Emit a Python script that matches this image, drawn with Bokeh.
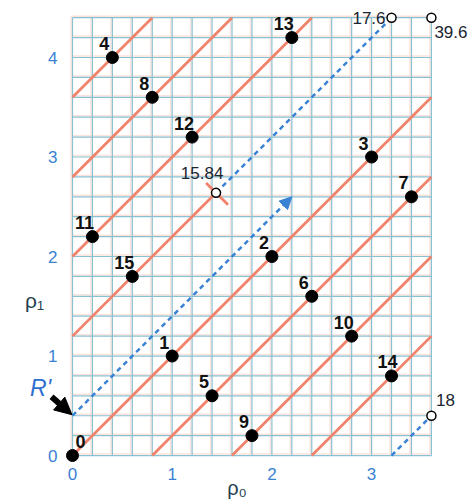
import numpy as np
from bokeh.plotting import figure
from bokeh.models import (ColumnDataSource, LabelSet, Label, Arrow, NormalHead,
                          FixedTicker, Range1d)
from bokeh.core.properties import value
from bokeh.embed import file_html
from bokeh.resources import INLINE

# lattice points (rho0, rho1) with their indices
point_ids = [str(i) for i in range(16)]
rho0 = [0.0, 1.0, 2.0, 3.0, 0.4, 1.4, 2.4, 3.4, 0.8, 1.8, 2.8, 0.2, 1.2, 2.2, 3.2, 0.6]
rho1 = [0.0, 1.0, 2.0, 3.0, 4.0, 0.6, 1.6, 2.6, 3.6, 0.2, 1.2, 2.2, 3.2, 4.2, 0.8, 1.8]

# intercepts c of the full diagonals rho1 = rho0 + c
diag_offsets = [3.6, 2.8, 2.0, 0.0, -0.8, -1.6, -2.4]

# marked parameter values along the search line
open_values = ["15.84", "17.6", "39.6", "18"]
open_rho0 = [1.44, 3.2, 3.6, 3.6]
open_rho1 = [2.64, 4.4, 4.4, 0.4]

# search line pieces (dashed)
search_start = (0.0, 0.4)
search_arrow_end = (2.2, 2.6)
dash_x0 = [1.44, 3.2]
dash_y0 = [2.64, 0.0]
dash_x1 = [3.2, 3.6]
dash_y1 = [4.4, 0.4]

# diagonal through 15 that stops at the 15.84 marker, and its cross stroke
partial_diag = ([0.0, 1.44], [1.2, 2.64])
cross_stroke = ([1.34, 1.56], [2.74, 2.52])

x_ticks = [0, 1, 2, 3]
y_ticks = [0, 1, 2, 3, 4]
RHO0_MAX, RHO1_MAX, STEP = 3.6, 4.4, 0.2

BLUE = "#3a82d4"
ORANGE = "#f0836c"
GRID = "#88c1d2"
DARK = "#1a2530"
FONT = "Liberation Sans"

# the frame spans the whole canvas; axes sit on the lattice edges
p = figure(width=471, height=501, x_range=Range1d(-0.722, 4.002),
           y_range=Range1d(-0.462, 4.573), output_backend="svg",
           toolbar_location=None, min_border=0, min_border_left=0,
           min_border_right=0, min_border_top=0, min_border_bottom=0)
p.grid.visible = False
p.outline_line_color = None
p.background_fill_color = "white"
p.border_fill_color = "white"

for ax, ticks in ((p.xaxis[0], x_ticks), (p.yaxis[0], y_ticks)):
    ax.ticker = FixedTicker(ticks=ticks)
    ax.fixed_location = 0
    ax.axis_line_color = None
    ax.major_tick_line_color = None
    ax.minor_tick_line_color = None
    ax.major_tick_out = 0
    ax.major_tick_in = 0
    ax.major_label_text_color = BLUE
    ax.major_label_text_font = FONT
    ax.major_label_text_font_size = "17px"
p.xaxis.major_label_standoff = 12
p.yaxis.major_label_standoff = 15

# square grid, drawn only over the lattice region
gx = np.round(np.arange(0, RHO0_MAX + 1e-9, STEP), 3)
gy = np.round(np.arange(0, RHO1_MAX + 1e-9, STEP), 3)
sx0 = np.concatenate([gx, np.zeros_like(gy)])
sy0 = np.concatenate([np.zeros_like(gx), gy])
sx1 = np.concatenate([gx, np.full_like(gy, RHO0_MAX)])
sy1 = np.concatenate([np.full_like(gx, RHO1_MAX), gy])
p.segment(sx0 - 0.015, sy0 + 0.015, sx1 - 0.015, sy1 + 0.015,
          line_color="#fbe3dc", line_width=1.5)
p.segment(sx0, sy0, sx1, sy1, line_color=GRID, line_width=1.2)

# diagonals clipped to the lattice box
c = np.array(diag_offsets)
dx0 = np.maximum(0, -c); dx1 = np.minimum(RHO0_MAX, RHO1_MAX - c)
p.segment(dx0, dx0 + c, dx1, dx1 + c, line_color=ORANGE, line_width=2.8)
p.line(*partial_diag, line_color=ORANGE, line_width=2.8)
p.line(*cross_stroke, line_color=ORANGE, line_width=2.8)

# dashed search line
p.segment(dash_x0, dash_y0, dash_x1, dash_y1, line_color=BLUE, line_width=2.5,
          line_dash="5 4")
p.add_layout(Arrow(end=NormalHead(size=12, fill_color=BLUE, line_color=BLUE),
                   x_start=search_start[0], y_start=search_start[1],
                   x_end=search_arrow_end[0], y_end=search_arrow_end[1],
                   line_color=BLUE, line_width=2.5, line_dash="5 4"))

# lattice points; the origin label sits to the right of its dot
label_dx = [8 if t == "0" else (-4 if t == "14" else -8) for t in point_ids]
pts = ColumnDataSource(dict(x=rho0, y=rho1, t=point_ids, dx=label_dx))
p.scatter("x", "y", source=pts, size=12, fill_color="black", line_color="black")

# open markers
opn = ColumnDataSource(dict(x=open_rho0, y=open_rho1, t=open_values))
p.scatter("x", "y", source=opn, size=9, fill_color="white", line_color="black",
          line_width=1.5)

# point labels
p.add_layout(LabelSet(x="x", y="y", text="t", source=pts, x_offset="dx", y_offset=14,
                      text_align="center", text_baseline="middle",
                      text_font=value(FONT), text_font_style="bold",
                      text_font_size="18px", text_color="#111111"))

label_style = dict(text_font=FONT, text_font_size="17px", text_color=DARK,
                   text_baseline="middle")
off = [(-14, 20, "center"), (-6, 0, "right"), (3, -14, "left"), (14, 16, "center")]
for xv, yv, t, (xo, yo, al) in zip(open_rho0, open_rho1, open_values, off):
    p.add_layout(Label(x=xv, y=yv, text=t, x_offset=xo, y_offset=yo,
                       text_align=al, **label_style))

# R' marker with its arrow
p.add_layout(Label(x=-0.32, y=0.68, text="R'", text_align="center",
                   text_baseline="middle", text_font=FONT, text_font_style="italic",
                   text_font_size="23px", text_color="#2e6fcf"))
p.add_layout(Arrow(end=NormalHead(size=17, fill_color="black", line_color="black"),
                   x_start=-0.21, y_start=0.59, x_end=-0.005, y_end=0.41,
                   line_color="black", line_width=6))

# axis names
p.add_layout(Label(x=-0.38, y=1.56, text="ρ₁", text_align="center",
                   text_baseline="middle", text_font=FONT, text_font_size="21px",
                   text_color="#24404f"))
p.add_layout(Label(x=1.65, y=-0.33, text="ρ₀", text_align="center",
                   text_baseline="middle", text_font=FONT, text_font_size="20px",
                   text_color="#24404f"))

open("out.html", "w").write(file_html(p, INLINE))
